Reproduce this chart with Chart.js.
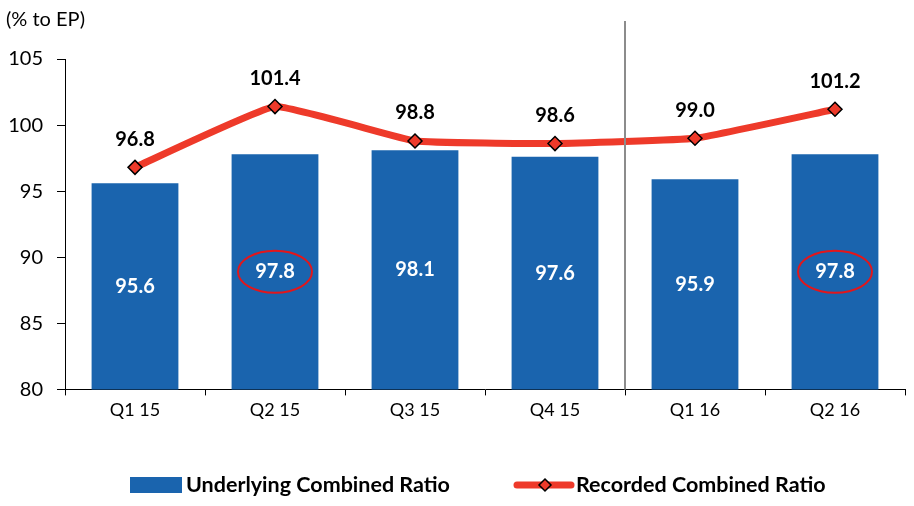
<!DOCTYPE html>
<html>
<head>
<meta charset="utf-8">
<script src="https://cdn.jsdelivr.net/npm/chart.js@4"></script>
<style>
  html, body { margin: 0; padding: 0; background: #fff; }
  #wrap { width: 914px; height: 506px; position: relative; }
</style>
</head>
<body>
<div id="wrap"><canvas id="ctx"></canvas></div>
<script>
const quarters = ['Q1 15', 'Q2 15', 'Q3 15', 'Q4 15', 'Q1 16', 'Q2 16']
const underlying = [95.6, 97.8, 98.1, 97.6, 95.9, 97.8]
const recorded = [96.8, 101.4, 98.8, 98.6, 99.0, 101.2]
const circled = [1, 5]
const splitAfter = 3

const FONT = 'Lato, "Open Sans", sans-serif'
const BLUE = '#1a64ae'
const RED = '#ee3a2a'

// labels, ellipses, divider, axis title and legend
const extras = {
  id: 'extras',
  afterDatasetsDraw: (chart) => {
    const {ctx, chartArea} = chart
    const x = chart.scales.x
    const y = chart.scales.y
    ctx.save()

    // divider between 2015 and 2016
    const xs = (x.getPixelForValue(splitAfter) + x.getPixelForValue(splitAfter + 1)) / 2
    ctx.strokeStyle = '#8c8c8c'
    ctx.lineWidth = 2
    ctx.beginPath()
    ctx.moveTo(xs, 21)
    ctx.lineTo(xs, chartArea.bottom)
    ctx.stroke()

    // bar labels
    ctx.font = 'bold 20px ' + FONT
    ctx.textAlign = 'center'
    ctx.textBaseline = 'middle'
    underlying.forEach((v, i) => {
      const cx = x.getPixelForValue(i)
      const cy = (y.getPixelForValue(v) + y.getPixelForValue(80)) / 2
      ctx.fillStyle = '#fff'
      ctx.fillText(v.toFixed(1), cx, cy)
      if (circled.includes(i)) {
        ctx.strokeStyle = '#e3161b'
        ctx.lineWidth = 2
        ctx.beginPath()
        ctx.ellipse(cx, cy, 37, 21, 0, 0, Math.PI * 2)
        ctx.stroke()
      }
    })

    // line labels
    ctx.fillStyle = '#000'
    recorded.forEach((v, i) => {
      ctx.fillText(v.toFixed(1), x.getPixelForValue(i), y.getPixelForValue(v) - 28)
    })

    // axis title
    ctx.font = '20px ' + FONT
    ctx.textAlign = 'left'
    ctx.fillText('(% to EP)', 6, 20)

    // legend
    const ly = 485
    ctx.font = 'bold 21.5px ' + FONT
    ctx.fillStyle = BLUE
    ctx.fillRect(130, 477, 52, 16)
    ctx.fillStyle = '#000'
    ctx.fillText('Underlying Combined Ratio', 186, ly)

    ctx.strokeStyle = RED
    ctx.lineWidth = 7
    ctx.lineCap = 'round'
    ctx.beginPath()
    ctx.moveTo(517, ly)
    ctx.lineTo(571, ly)
    ctx.stroke()
    ctx.lineCap = 'butt'
    ctx.fillStyle = RED
    ctx.strokeStyle = '#000'
    ctx.lineWidth = 1.5
    ctx.beginPath()
    ctx.moveTo(545, ly - 6)
    ctx.lineTo(551, ly)
    ctx.lineTo(545, ly + 6)
    ctx.lineTo(539, ly)
    ctx.closePath()
    ctx.fill()
    ctx.stroke()
    ctx.fillStyle = '#000'
    ctx.fillText('Recorded Combined Ratio', 576, ly)

    ctx.restore()
  }
}

const chart = new Chart(document.getElementById('ctx'), {
  type: 'bar',
  data: {
    labels: quarters,
    datasets: [
      {
        type: 'bar',
        label: 'Underlying Combined Ratio',
        data: underlying,
        backgroundColor: BLUE,
        categoryPercentage: 1,
        barPercentage: 0.62,
        order: 2
      },
      {
        type: 'line',
        label: 'Recorded Combined Ratio',
        data: recorded,
        borderColor: RED,
        borderWidth: 7,
        tension: 0.1,
        pointStyle: 'rectRot',
        pointRadius: 7,
        pointBackgroundColor: RED,
        pointBorderColor: '#000',
        pointBorderWidth: 1.5,
        order: 1
      }
    ]
  },
  options: {
    responsive: true,
    maintainAspectRatio: false,
    animation: false,
    layout: { padding: { top: 59, right: 9, bottom: 81, left: 0 } },
    plugins: {
      legend: { display: false },
      tooltip: { enabled: false }
    },
    scales: {
      x: {
        grid: { display: true, drawOnChartArea: false, drawTicks: true, tickLength: 6, color: '#000', offset: true },
        border: { color: '#000', width: 1 },
        ticks: { color: '#000', font: { family: FONT, size: 18 }, padding: 4 }
      },
      y: {
        min: 80,
        max: 105,
        afterFit: (s) => { s.width = 65 },
        grid: { display: true, drawOnChartArea: false, drawTicks: true, tickLength: 8, color: '#000' },
        border: { color: '#000', width: 1 },
        ticks: { stepSize: 5, color: '#000', font: { family: FONT, size: 20 }, padding: 14 }
      }
    }
  },
  plugins: [extras]
})
</script>
</body>
</html>
